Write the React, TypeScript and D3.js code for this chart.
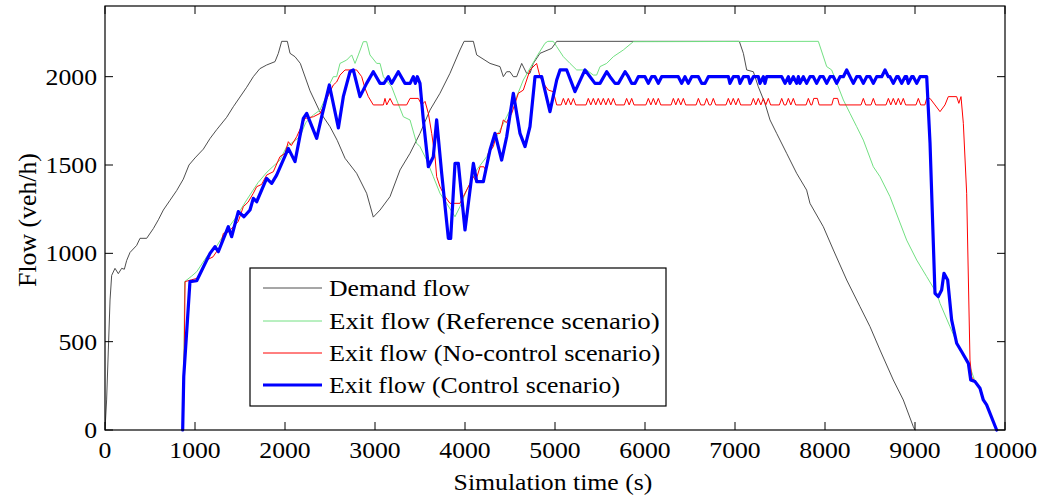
import React from "react";
import * as d3 from "d3";

type P = [number, number];

const xTicks = [0, 1000, 2000, 3000, 4000, 5000, 6000, 7000, 8000, 9000, 10000];
const yTicks = [0, 500, 1000, 1500, 2000];

const legendLabels = [
  "Demand flow",
  "Exit flow (Reference scenario)",
  "Exit flow (No-control scenario)",
  "Exit flow (Control scenario)",
];

const demandFlow: P[] = [
  [0, 0], [18, 170], [37, 453], [56, 736], [74, 875], [111, 915], [148, 885], [185, 915], [215, 910],
  [241, 960], [278, 1005], [352, 1045], [389, 1085], [463, 1085], [537, 1140], [593, 1190], [648, 1245],
  [722, 1300], [796, 1355], [870, 1420], [933, 1500], [1000, 1540], [1093, 1590], [1167, 1650],
  [1241, 1700], [1352, 1770], [1426, 1830], [1500, 1885], [1574, 1940], [1648, 2000], [1720, 2045],
  [1796, 2066], [1889, 2085], [1926, 2132], [1963, 2200], [2026, 2200], [2056, 2132], [2111, 2113],
  [2170, 2075], [2278, 1920], [2389, 1800], [2500, 1717], [2580, 1640], [2667, 1538], [2796, 1453],
  [2907, 1340], [2981, 1205], [3056, 1245], [3167, 1321], [3278, 1472], [3389, 1566], [3500, 1679],
  [3611, 1811], [3722, 1906], [3833, 2019], [3944, 2151], [3990, 2200], [4093, 2200], [4130, 2123],
  [4278, 2075], [4389, 2057], [4426, 2000], [4463, 2028], [4500, 2028], [4537, 2000], [4574, 2000],
  [4630, 2075], [4685, 2019], [4722, 2019], [4759, 2075], [4833, 2132], [4963, 2160], [5019, 2200],
  [7048, 2200], [7093, 2132], [7130, 2038], [7204, 2028], [7259, 1943], [7333, 1849], [7389, 1755],
  [7463, 1679], [7574, 1566], [7685, 1453], [7796, 1358], [7833, 1283], [7981, 1151], [8093, 1019],
  [8241, 849], [8389, 698], [8500, 585], [8611, 453], [8759, 283], [8870, 170], [8981, 19], [9000, 0],
];

const referenceFlow: P[] = [
  [870, 0], [885, 840], [960, 870], [1019, 896], [1056, 924], [1130, 981], [1240, 1040], [1352, 1132],
  [1450, 1200], [1574, 1302], [1700, 1400], [1800, 1460], [1944, 1528], [2019, 1604], [2167, 1660],
  [2230, 1740], [2315, 1783], [2389, 1811], [2450, 1880], [2500, 1962], [2537, 2000], [2574, 2000],
  [2611, 2075], [2685, 2094], [2741, 2123], [2778, 2075], [2815, 2123], [2870, 2198], [2907, 2198],
  [2944, 2123], [3019, 2075], [3056, 2075], [3093, 2000], [3185, 1943], [3241, 1868], [3315, 1773],
  [3389, 1755], [3463, 1623], [3500, 1604], [3574, 1528], [3648, 1434], [3722, 1340], [3796, 1283],
  [3889, 1207], [3944, 1264], [4019, 1358], [4130, 1472], [4241, 1547], [4352, 1660], [4463, 1773],
  [4574, 1887], [4648, 1981], [4796, 2113], [4889, 2189], [4920, 2200], [4981, 2200], [5019, 2170],
  [5093, 2113], [5167, 2075], [5241, 2038], [5352, 2038], [5426, 2009], [5463, 2009], [5500, 2057],
  [5574, 2075], [5648, 2113], [5759, 2151], [5870, 2198], [7926, 2200], [8019, 2057], [8074, 2038],
  [8204, 1868], [8278, 1792], [8352, 1717], [8426, 1641], [8537, 1490], [8611, 1434], [8722, 1321],
  [8907, 1075], [9019, 962], [9130, 868], [9241, 774], [9278, 717], [9389, 585], [9500, 453],
  [9611, 358], [9667, 274], [9722, 236], [9759, 170], [9796, 142], [9907, 0],
];

const noControlFlow: P[] = [
  [870, 0], [890, 840], [960, 850], [1019, 858], [1080, 900], [1130, 962], [1200, 980], [1278, 1038],
  [1315, 1113], [1370, 1120], [1426, 1151], [1480, 1180], [1537, 1264], [1590, 1290], [1648, 1340],
  [1685, 1377], [1740, 1390], [1796, 1443], [1870, 1462], [1944, 1547], [2000, 1566], [2037, 1632],
  [2070, 1610], [2130, 1660], [2222, 1764], [2315, 1773], [2389, 1792], [2426, 1830], [2500, 1915],
  [2537, 1953], [2574, 1970], [2611, 2009], [2667, 2038], [2796, 2038], [2852, 2000], [2889, 1934],
  [2926, 1887], [2981, 1840], [3093, 1840], [3111, 1877], [3130, 1840], [3167, 1877], [3204, 1840],
  [3352, 1840], [3389, 1877], [3481, 1877], [3519, 1840], [3556, 1860], [3593, 1792], [3630, 1679],
  [3667, 1547], [3685, 1434], [3722, 1377], [3778, 1321], [3833, 1283], [3944, 1283], [3981, 1321],
  [4056, 1396], [4093, 1434], [4120, 1410], [4167, 1490], [4210, 1490], [4230, 1470], [4259, 1566],
  [4315, 1604], [4352, 1679], [4389, 1679], [4426, 1755], [4460, 1740], [4519, 1792], [4593, 1906],
  [4648, 1924], [4685, 1981], [4722, 2038], [4796, 2075], [4833, 2000], [4870, 1962], [4926, 1924],
  [4981, 1915], [5019, 1840],
  [5068, 1840], [5093, 1877], [5120, 1840], [5148, 1877], [5176, 1840], [5204, 1877], [5230, 1840],
  [5345, 1840], [5370, 1877], [5398, 1840], [5426, 1877], [5453, 1840], [5481, 1877], [5509, 1840],
  [5537, 1877], [5565, 1840], [5593, 1877], [5620, 1840], [5648, 1877], [5675, 1840],
  [5770, 1840], [5796, 1877], [5824, 1840], [5852, 1877], [5878, 1840],
  [6010, 1840], [6037, 1877], [6065, 1840], [6093, 1877], [6120, 1840], [6148, 1877], [6175, 1840],
  [6290, 1840], [6315, 1877], [6342, 1840], [6370, 1877], [6398, 1840], [6426, 1877], [6452, 1840],
  [6568, 1840], [6593, 1877], [6620, 1840],
  [6660, 1840], [6685, 1877], [6712, 1840], [6733, 1840], [6759, 1877], [6786, 1840],
  [6900, 1840], [6926, 1877], [6953, 1840], [6981, 1877], [7009, 1840], [7037, 1877], [7063, 1840],
  [7178, 1840], [7204, 1877], [7231, 1840], [7259, 1877], [7287, 1840], [7315, 1877], [7342, 1840],
  [7370, 1877], [7396, 1840],
  [7493, 1840], [7519, 1877], [7546, 1840], [7567, 1840], [7593, 1877], [7620, 1840], [7648, 1877],
  [7674, 1840],
  [7790, 1840], [7815, 1877], [7842, 1840], [7855, 1840], [7875, 1877], [7915, 1877], [7935, 1840],
  [8075, 1840], [8095, 1877], [8140, 1877], [8160, 1840],
  [8400, 1840], [8426, 1877], [8452, 1840], [8511, 1840], [8537, 1877], [8563, 1840],
  [8678, 1840], [8704, 1877], [8731, 1840], [8759, 1877], [8787, 1840], [8815, 1877], [8842, 1840],
  [8870, 1877], [8896, 1840],
  [9011, 1840], [9037, 1877], [9063, 1840], [9110, 1840], [9130, 1877], [9167, 1877], [9222, 1840],
  [9278, 1802], [9333, 1840], [9370, 1887], [9463, 1887], [9487, 1849], [9511, 1887], [9537, 1736],
  [9574, 1340], [9611, 396], [9630, 300], [9667, 274], [9722, 236], [9759, 170], [9796, 142], [9907, 0],
];

const controlFlow: P[] = [
  [863, 0], [875, 302], [944, 840], [1019, 845], [1167, 1000], [1222, 1038], [1259, 1009],
  [1370, 1151], [1407, 1094], [1481, 1236], [1544, 1207], [1611, 1245], [1648, 1311], [1685, 1292],
  [1796, 1424], [1852, 1396], [1907, 1443], [2037, 1594], [2111, 1519], [2204, 1764], [2241, 1792],
  [2352, 1651], [2407, 1773], [2493, 1953], [2593, 1710], [2648, 1887], [2722, 2028], [2759, 2038],
  [2833, 1887], [2907, 1962], [2981, 2028], [3056, 1962], [3100, 1962], [3148, 2000], [3185, 1962],
  [3259, 2028], [3333, 1962], [3390, 1962], [3426, 2000], [3448, 1962], [3470, 2000], [3500, 1962],
  [3537, 1755], [3593, 1490], [3648, 1547], [3685, 1755], [3741, 1453], [3815, 1085], [3841, 1085],
  [3889, 1509], [3926, 1509], [4000, 1132], [4093, 1509], [4130, 1406], [4204, 1406], [4278, 1585],
  [4333, 1679], [4407, 1528], [4463, 1660], [4537, 1906], [4611, 1679], [4667, 1604], [4722, 1717],
  [4778, 2000], [4852, 2000], [4944, 1802], [5019, 1981],
  [5056, 2038], [5130, 2038], [5222, 1915], [5333, 2038], [5444, 1962], [5500, 1962], [5574, 2028],
  [5611, 2000], [5667, 1962], [5704, 1962], [5778, 2028], [5815, 2000], [5852, 1962], [5889, 1962],
  [5926, 2000], [6000, 2000], [6037, 1962], [6074, 2000], [6111, 2000], [6148, 1962], [6185, 2000],
  [6370, 2000], [6407, 1962], [6444, 2000], [6481, 1962], [6519, 2000], [6593, 2000], [6630, 1962],
  [6667, 1962], [6704, 2000], [6926, 2000], [6944, 1962], [6981, 2000], [7037, 2000], [7056, 1962],
  [7093, 2000], [7148, 2000], [7167, 1962], [7204, 2000], [7259, 2000], [7278, 1962], [7315, 2000],
  [7333, 1962], [7352, 2000], [7519, 2000], [7556, 1962], [7593, 2000], [7611, 1962], [7648, 2000],
  [7685, 1962], [7704, 2000], [7722, 1962], [7759, 2000], [7796, 1962], [7833, 2000], [7870, 2000],
  [7907, 1962], [7944, 2000], [7981, 2000], [8019, 1962], [8056, 2000], [8093, 2000], [8130, 1962],
  [8167, 2000], [8204, 2000], [8241, 2038], [8278, 2000], [8315, 1962], [8352, 2000], [8389, 2000],
  [8426, 1962], [8463, 2000], [8500, 2000], [8537, 1962], [8574, 2000], [8630, 2000], [8667, 2038],
  [8704, 2000], [8722, 2000], [8759, 1962], [8796, 2000], [8815, 2000], [8852, 1962], [8889, 2000],
  [8907, 2000], [8926, 1962], [8963, 2000], [8981, 2000], [9019, 1962], [9056, 2000], [9130, 2000],
  [9167, 1623], [9222, 774], [9259, 755], [9296, 792], [9322, 887], [9363, 849], [9407, 623],
  [9463, 491], [9519, 443], [9593, 377], [9619, 283], [9667, 274], [9722, 236], [9759, 170],
  [9796, 142], [9907, 0],
];

const W = 1045;
const H = 497;
const M = { left: 105, right: 1005, top: 6, bottom: 430 };
const FONT = "'Liberation Serif', 'Times New Roman', serif";
const FS = 23;
const SX = 1.12;

const T = ({ x, y, anchor = "start", children, sx = SX }: any) => (
  <text
    transform={`translate(${x},${y}) scale(${sx},1)`}
    textAnchor={anchor}
    fontFamily={FONT}
    fontSize={FS}
    fill="#000"
  >
    {children}
  </text>
);

export default function App() {
  const x = d3.scaleLinear().domain([0, 10000]).range([M.left, M.right]);
  const y = d3.scaleLinear().domain([0, 2400]).range([M.bottom, M.top]);
  const line = d3
    .line<P>()
    .x((d) => x(d[0]))
    .y((d) => y(d[1]));

  const series = [
    { data: demandFlow, color: "#3a3a3a", w: 0.9 },
    { data: referenceFlow, color: "#72e082", w: 1 },
    { data: noControlFlow, color: "#ff0000", w: 1 },
    { data: controlFlow, color: "#0000ff", w: 3.2 },
  ];

  const tl = 8;
  const leg = { x0: 250, y0: 268, x1: 666, y1: 406 };
  const legRows = [288, 321, 353, 385];
  const legSx = [SX, 1.17, 1.14, SX];

  return (
    <svg
      width={W}
      height={H}
      style={{ position: "absolute", left: 0, top: 0, display: "block", background: "#fff" }}
    >
      <rect x={0} y={0} width={W} height={H} fill="#fff" />
      <defs>
        <clipPath id="plotClip">
          <rect x={M.left} y={M.top} width={M.right - M.left} height={M.bottom - M.top + 2} />
        </clipPath>
      </defs>
      <g clipPath="url(#plotClip)">
        {series.map((s, i) => (
          <path
            key={i}
            d={line(s.data) || ""}
            fill="none"
            stroke={s.color}
            strokeWidth={s.w}
            strokeLinejoin="round"
            strokeLinecap="round"
          />
        ))}
      </g>
      <rect
        x={M.left}
        y={M.top}
        width={M.right - M.left}
        height={M.bottom - M.top}
        fill="none"
        stroke="#000"
        strokeWidth={1.2}
      />
      {xTicks.map((t) => (
        <g key={"x" + t}>
          <line x1={x(t)} x2={x(t)} y1={M.bottom} y2={M.bottom - tl} stroke="#000" />
          <line x1={x(t)} x2={x(t)} y1={M.top} y2={M.top + tl} stroke="#000" />
          <T x={x(t)} y={458} anchor="middle">
            {t}
          </T>
        </g>
      ))}
      {yTicks.map((t) => (
        <g key={"y" + t}>
          <line x1={M.left} x2={M.left + tl} y1={y(t)} y2={y(t)} stroke="#000" />
          <line x1={M.right} x2={M.right - tl} y1={y(t)} y2={y(t)} stroke="#000" />
          <T x={97} y={y(t) + 8} anchor="end">
            {t}
          </T>
        </g>
      ))}
      <T x={553} y={490} anchor="middle">
        Simulation time (s)
      </T>
      <text
        transform={`translate(36,220) rotate(-90)`}
        textAnchor="middle"
        fontFamily={FONT}
        fontSize={FS * 1.12}
        fill="#000"
      >
        Flow (veh/h)
      </text>
      <rect
        x={leg.x0}
        y={leg.y0}
        width={leg.x1 - leg.x0}
        height={leg.y1 - leg.y0}
        fill="#fff"
        stroke="#000"
        strokeWidth={1.2}
      />
      {series.map((s, i) => (
        <g key={"l" + i}>
          <line x1={263} x2={322} y1={legRows[i]} y2={legRows[i]} stroke={s.color} strokeWidth={s.w} />
          <T x={329} y={legRows[i] + 8} sx={legSx[i]}>
            {legendLabels[i]}
          </T>
        </g>
      ))}
    </svg>
  );
}
